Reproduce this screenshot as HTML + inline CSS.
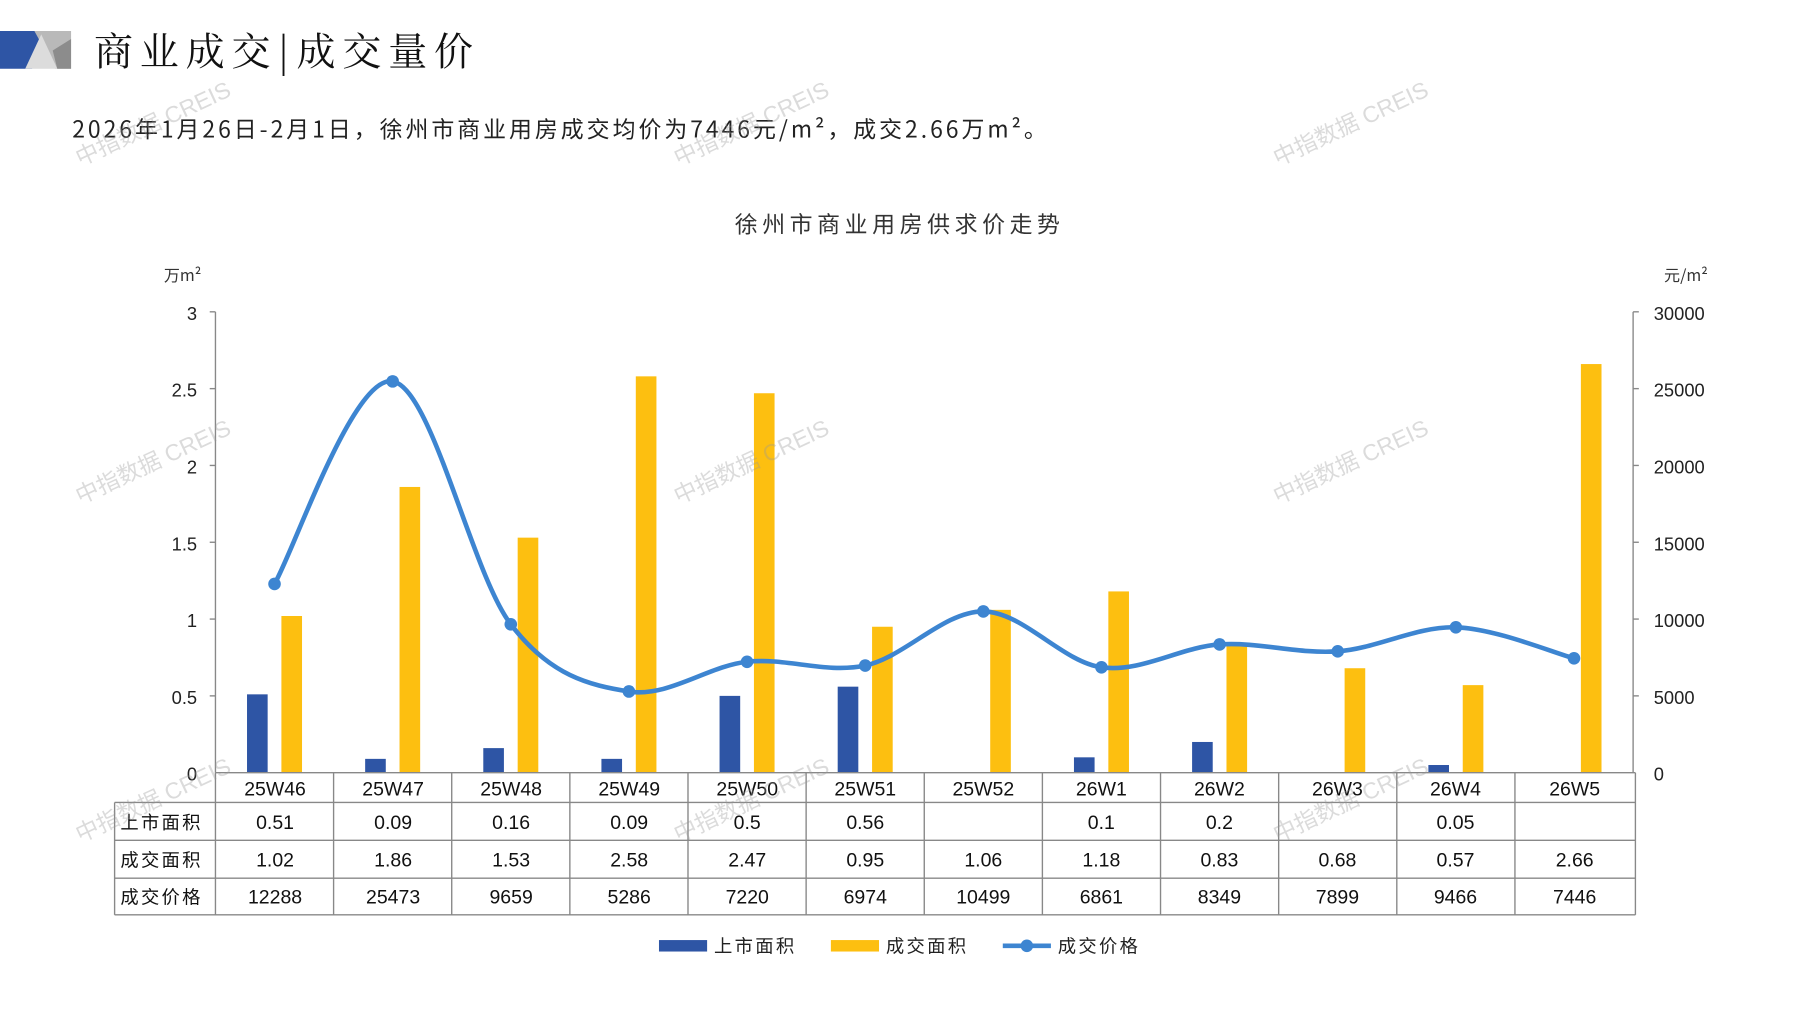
<!DOCTYPE html>
<html><head><meta charset="utf-8">
<style>
html,body{margin:0;padding:0;background:#fff;}
svg{display:block;}
text{font-family:"Liberation Sans","Noto Sans CJK SC",sans-serif;}
.cj{font-family:"Noto Sans CJK SC","Liberation Sans",sans-serif;}
</style></head>
<body>
<svg id="s" width="1797" height="1010" viewBox="0 0 1568 881" preserveAspectRatio="none" xmlns="http://www.w3.org/2000/svg">
<rect width="1568" height="881" fill="#fff"/>
<polygon points="0,27 40,27 28,60 0,60" fill="#2e55a5"/>
<polygon points="30,27 62,27 62,60 48,60" fill="#b9b9b9"/>
<polygon points="22,60 36,30 50,60" fill="#dcdcdc"/>
<polygon points="46,44 62,34 62,60 50,60" fill="#8c8c8c"/>
<text x="82" y="57" font-size="34" letter-spacing="6" style="font-family:'Noto Serif CJK SC','Liberation Serif',serif" fill="#111">商业成交|成交量价</text>
<text x="63" y="120" font-size="20" class="cj" fill="#222" letter-spacing="2.6">2026年1月26日-2月1日，徐州市商业用房成交均价为7446元/m²，成交2.66万m²。</text>
<text x="785" y="203" font-size="20" class="cj" text-anchor="middle" fill="#333" letter-spacing="4">徐州市商业用房供求价走势</text>
<text x="143" y="245" font-size="14" class="cj" fill="#333">万m²</text>
<text x="1452" y="245" font-size="14" class="cj" fill="#333">元/m²</text>
<g font-size="16" fill="#222" text-anchor="end">
<text x="172" y="279">3</text><text x="172" y="346">2.5</text><text x="172" y="413">2</text>
<text x="172" y="480">1.5</text><text x="172" y="547">1</text><text x="172" y="614">0.5</text><text x="172" y="681">0</text>
</g>
<g font-size="16" fill="#222">
<text x="1443" y="279">30000</text><text x="1443" y="346">25000</text><text x="1443" y="413">20000</text>
<text x="1443" y="480">15000</text><text x="1443" y="547">10000</text><text x="1443" y="614">5000</text><text x="1443" y="681">0</text>
</g>
<g stroke="#888" stroke-width="1.2">
<line x1="188" y1="272" x2="188" y2="674"/><line x1="1425" y1="272" x2="1425" y2="674"/>
<line x1="183" y1="272" x2="188" y2="272"/><line x1="183" y1="339" x2="188" y2="339"/><line x1="183" y1="406" x2="188" y2="406"/><line x1="183" y1="473" x2="188" y2="473"/><line x1="183" y1="540" x2="188" y2="540"/><line x1="183" y1="607" x2="188" y2="607"/>
<line x1="1425" y1="272" x2="1430" y2="272"/><line x1="1425" y1="339" x2="1430" y2="339"/><line x1="1425" y1="406" x2="1430" y2="406"/><line x1="1425" y1="473" x2="1430" y2="473"/><line x1="1425" y1="540" x2="1430" y2="540"/><line x1="1425" y1="607" x2="1430" y2="607"/>
</g>
<g id="bars"></g>
<path id="ln" fill="none" stroke="#3d85d1" stroke-width="4"/>
<g id="dots" fill="#3d85d1"></g>
<g stroke="#888" stroke-width="1.2" fill="none" id="grid">
<line x1="188" y1="674" x2="1427" y2="674"/>
<line x1="100" y1="700" x2="1427" y2="700"/>
<line x1="100" y1="733" x2="1427" y2="733"/>
<line x1="100" y1="766" x2="1427" y2="766"/>
<line x1="100" y1="798" x2="1427" y2="798"/>
<line x1="100" y1="700" x2="100" y2="798"/>
</g>
<g font-size="17" fill="#111" text-anchor="middle">
<text x="240" y="694">25W46</text><text x="343" y="694">25W47</text><text x="446" y="694">25W48</text><text x="549" y="694">25W49</text><text x="652" y="694">25W50</text><text x="755" y="694">25W51</text><text x="858" y="694">25W52</text><text x="961" y="694">26W1</text><text x="1064" y="694">26W2</text><text x="1167" y="694">26W3</text><text x="1270" y="694">26W4</text><text x="1374" y="694">26W5</text>
<text x="240" y="723">0.51</text><text x="343" y="723">0.09</text><text x="446" y="723">0.16</text><text x="549" y="723">0.09</text><text x="652" y="723">0.5</text><text x="755" y="723">0.56</text><text x="961" y="723">0.1</text><text x="1064" y="723">0.2</text><text x="1270" y="723">0.05</text>
<text x="240" y="756">1.02</text><text x="343" y="756">1.86</text><text x="446" y="756">1.53</text><text x="549" y="756">2.58</text><text x="652" y="756">2.47</text><text x="755" y="756">0.95</text><text x="858" y="756">1.06</text><text x="961" y="756">1.18</text><text x="1064" y="756">0.83</text><text x="1167" y="756">0.68</text><text x="1270" y="756">0.57</text><text x="1374" y="756">2.66</text>
<text x="240" y="788">12288</text><text x="343" y="788">25473</text><text x="446" y="788">9659</text><text x="549" y="788">5286</text><text x="652" y="788">7220</text><text x="755" y="788">6974</text><text x="858" y="788">10499</text><text x="961" y="788">6861</text><text x="1064" y="788">8349</text><text x="1167" y="788">7899</text><text x="1270" y="788">9466</text><text x="1374" y="788">7446</text>
</g>
<g font-size="16" fill="#111" class="cj" letter-spacing="2">
<text x="105" y="723">上市面积</text><text x="105" y="756">成交面积</text><text x="105" y="788">成交价格</text>
</g>
<rect x="575" y="820" width="42" height="10" fill="#2e55a5"/>
<text x="623" y="831" font-size="16" class="cj" fill="#222" letter-spacing="2">上市面积</text>
<rect x="725" y="820" width="42" height="10" fill="#fdbf10"/>
<text x="773" y="831" font-size="16" class="cj" fill="#222" letter-spacing="2">成交面积</text>
<line x1="875" y1="825" x2="917" y2="825" stroke="#3d85d1" stroke-width="4"/>
<circle cx="896" cy="825" r="5.5" fill="#3d85d1"/>
<text x="923" y="831" font-size="16" class="cj" fill="#222" letter-spacing="2">成交价格</text>
<g font-size="20" fill="#999" opacity="0.35" class="cj">
<text transform="translate(70,145) rotate(-25)">中指数据 CREIS</text>
<text transform="translate(592,145) rotate(-25)">中指数据 CREIS</text>
<text transform="translate(1115,145) rotate(-25)">中指数据 CREIS</text>
<text transform="translate(70,440) rotate(-25)">中指数据 CREIS</text>
<text transform="translate(592,440) rotate(-25)">中指数据 CREIS</text>
<text transform="translate(1115,440) rotate(-25)">中指数据 CREIS</text>
<text transform="translate(70,735) rotate(-25)">中指数据 CREIS</text>
<text transform="translate(592,735) rotate(-25)">中指数据 CREIS</text>
<text transform="translate(1115,735) rotate(-25)">中指数据 CREIS</text>
</g>
</svg>
<script>
var NS="http://www.w3.org/2000/svg";
var blue=[0.51,0.09,0.16,0.09,0.5,0.56,0,0.1,0.2,0,0.05,0];
var yel=[1.02,1.86,1.53,2.58,2.47,0.95,1.06,1.18,0.83,0.68,0.57,2.66];
var pr=[12288,25473,9659,5286,7220,6974,10499,6861,8349,7899,9466,7446];
var g=document.getElementById('bars'),d=document.getElementById('dots'),grid=document.getElementById('grid');
var pts=[];
for(var i=0;i<12;i++){
 var cx=188+103.08*(i+0.5);
 function r(x,v,c){if(v<=0)return;var e=document.createElementNS(NS,'rect');var h=v*134;e.setAttribute('x',x);e.setAttribute('y',674-h);e.setAttribute('width',18);e.setAttribute('height',h);e.setAttribute('fill',c);g.appendChild(e);}
 r(cx-24,blue[i],'#2e55a5');r(cx+6,yel[i],'#fdbf10');
 pts.push([cx,674-pr[i]*0.0134]);
 var L=document.createElementNS(NS,'line');var bx=188+103.08*i;L.setAttribute('x1',bx);L.setAttribute('x2',bx);L.setAttribute('y1',674);L.setAttribute('y2',798);grid.appendChild(L);
}
var L2=document.createElementNS(NS,'line');L2.setAttribute('x1',1427);L2.setAttribute('x2',1427);L2.setAttribute('y1',674);L2.setAttribute('y2',798);grid.appendChild(L2);
var p="M"+pts[0][0]+","+pts[0][1];
for(var i=0;i<11;i++){
 var p0=pts[Math.max(i-1,0)],p1=pts[i],p2=pts[i+1],p3=pts[Math.min(i+2,11)];
 var c1=[p1[0]+(p2[0]-p0[0])/6,p1[1]+(p2[1]-p0[1])/6],c2=[p2[0]-(p3[0]-p1[0])/6,p2[1]-(p3[1]-p1[1])/6];
 p+=" C"+c1+" "+c2+" "+p2;
}
document.getElementById('ln').setAttribute('d',p);
pts.forEach(function(q){var c=document.createElementNS(NS,'circle');c.setAttribute('cx',q[0]);c.setAttribute('cy',q[1]);c.setAttribute('r',5.5);d.appendChild(c);});
</script>
</body></html>
